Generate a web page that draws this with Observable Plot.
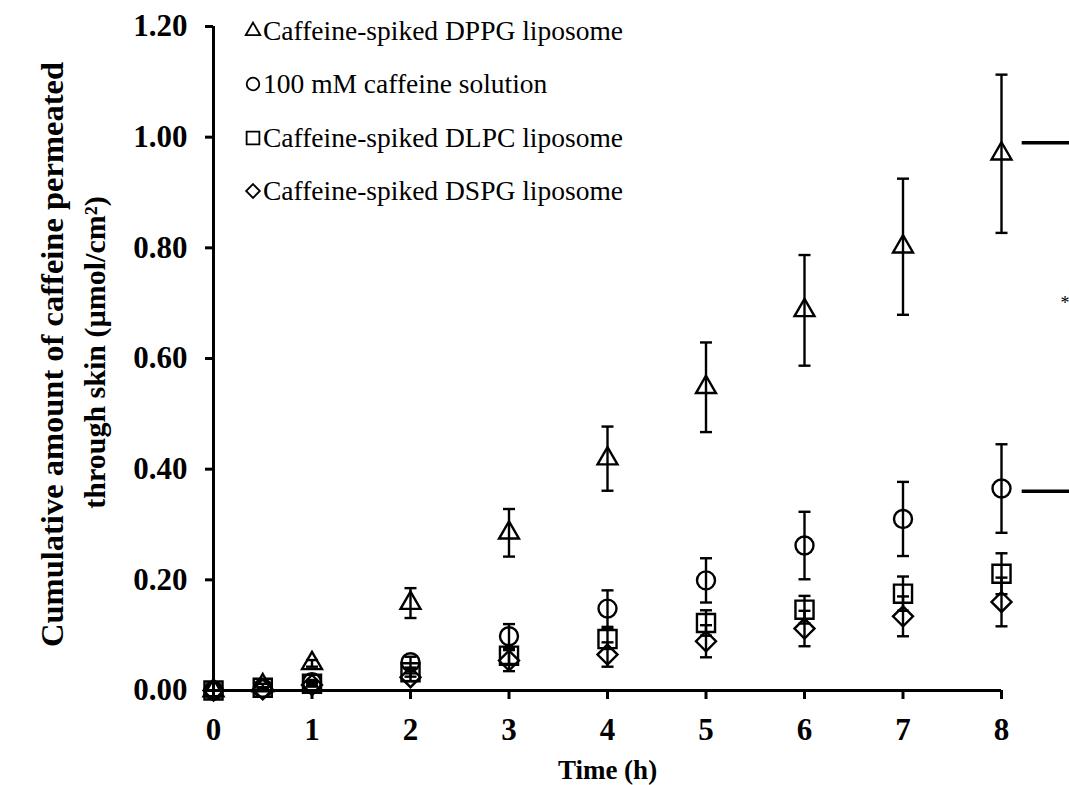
<!DOCTYPE html>
<html>
<head>
<meta charset="utf-8">
<script src="https://cdn.jsdelivr.net/npm/d3@7"></script>
<script src="https://cdn.jsdelivr.net/npm/@observablehq/plot@0.6"></script>
<style>
  body { margin: 0; background: #fff; }
  #figure { position: relative; width: 1069px; height: 785px; font-family: "Liberation Serif", "Times New Roman", serif; }
  #legend { position: absolute; left: 244px; top: 4px; }
  #legend .row { display: flex; align-items: center; height: 53.5px; font-size: 27.5px; color: #000; white-space: nowrap; }
  #legend svg { width: 18px; height: 18px; margin-right: 1px; overflow: visible; }
</style>
</head>
<body>
<div id="figure"><div id="legend"></div></div>
<script>
// Sampling times (h)
const hours = [0, 0.5, 1, 2, 3, 4, 5, 6, 7, 8];

// Cumulative caffeine permeated (µmol/cm²), mean and SD per formulation
const dppgMean     = [0, 0.009, 0.049, 0.158, 0.285, 0.419, 0.548, 0.687, 0.802, 0.970];
const dppgSd       = [0, 0.003, 0.006, 0.027, 0.043, 0.058, 0.081, 0.100, 0.123, 0.143];
const solutionMean = [0, 0.004, 0.015, 0.051, 0.098, 0.148, 0.199, 0.262, 0.310, 0.365];
const solutionSd   = [0, 0.001, 0.004, 0.010, 0.022, 0.033, 0.040, 0.061, 0.067, 0.080];
const dlpcMean     = [0, 0.005, 0.012, 0.033, 0.063, 0.093, 0.122, 0.146, 0.175, 0.211];
const dlpcSd       = [0, 0.001, 0.003, 0.008, 0.015, 0.018, 0.023, 0.025, 0.031, 0.037];
const dspgMean     = [0, 0.002, 0.010, 0.024, 0.054, 0.065, 0.089, 0.112, 0.134, 0.160];
const dspgSd       = [0, 0.001, 0.003, 0.007, 0.019, 0.022, 0.029, 0.032, 0.036, 0.044];

const seriesNames = [
  "Caffeine-spiked DPPG liposome",
  "100 mM caffeine solution",
  "Caffeine-spiked DLPC liposome",
  "Caffeine-spiked DSPG liposome"
];

// Axis ticks and titles
const xTicks = [0, 1, 2, 3, 4, 5, 6, 7, 8];
const yTicks = [0, 0.2, 0.4, 0.6, 0.8, 1.0, 1.2];
const xTitle = "Time (h)";
const yTitleLines = ["Cumulative amount of caffeine permeated", "through skin (µmol/cm²)"];

// Significance bracket ends (cut at the right edge) and its star
const bracketLevels = [0.99, 0.36];
const bracketStar = "*";

const styles = [
  {symbol: "triangle", r: 7.4, legendR: 5.4},
  {symbol: "circle",   r: 9.0, legendR: 6.3},
  {symbol: "square",   r: 10.2, legendR: 7.2},
  {symbol: "diamond2", r: 9.0, legendR: 6.2}
];

const means = [dppgMean, solutionMean, dlpcMean, dspgMean];
const sds = [dppgSd, solutionSd, dlpcSd, dspgSd];

const rows = seriesNames.flatMap((name, i) =>
  hours.map((t, j) => ({series: name, idx: i, t, y: means[i][j], lo: means[i][j] - sds[i][j], hi: means[i][j] + sds[i][j]}))
);

// Horizontal cap for error bars (half-width equals r)
const capSymbol = {
  draw(context, size) {
    const w = Math.sqrt(size / Math.PI);
    context.moveTo(-w, 0);
    context.lineTo(w, 0);
  }
};

const marks = [];
// markers, one mark per formulation so each keeps its own symbol and size
styles.forEach((s, i) => {
  marks.push(Plot.dot(rows.filter(d => d.idx === i), {
    x: "t", y: "y", symbol: s.symbol, r: s.r, fill: "none", stroke: "black", strokeWidth: 2.4
  }));
});
// error bars
marks.push(Plot.ruleX(rows, {x: "t", y1: "lo", y2: "hi", stroke: "black", strokeWidth: 2.4}));
marks.push(Plot.dot(rows, {x: "t", y: "lo", symbol: capSymbol, r: 6, stroke: "black", strokeWidth: 2.4}));
marks.push(Plot.dot(rows, {x: "t", y: "hi", symbol: capSymbol, r: 6, stroke: "black", strokeWidth: 2.4}));

// axes
marks.push(Plot.ruleY([0], {stroke: "black", strokeWidth: 3}));
marks.push(Plot.ruleX([0], {stroke: "black", strokeWidth: 3}));
marks.push(Plot.axisX({
  ticks: xTicks, tickFormat: d3.format("d"), tickSize: 9, tickPadding: 18,
  fontSize: 31, fontWeight: "bold", strokeWidth: 3, label: null
}));
marks.push(Plot.axisY({
  ticks: yTicks, tickFormat: d3.format(".2f"), tickSize: 8, tickPadding: 18,
  fontSize: 31, fontWeight: "bold", strokeWidth: 3, label: null
}));

// axis titles
marks.push(Plot.text([xTitle], {
  frameAnchor: "bottom", dy: 80, fontSize: 27, fontWeight: "bold", lineAnchor: "middle"
}));
marks.push(Plot.text([yTitleLines[0]], {
  frameAnchor: "left", dx: -161, dy: -4, rotate: -90, fontSize: 32.5, fontWeight: "bold",
  lineAnchor: "middle", textAnchor: "middle"
}));
marks.push(Plot.text([yTitleLines[1]], {
  frameAnchor: "left", dx: -118, dy: -6, rotate: -90, fontSize: 30, fontWeight: "bold",
  lineAnchor: "middle", textAnchor: "middle"
}));

// significance bracket pieces
marks.push(Plot.ruleY(bracketLevels, {x1: 8.21, x2: 8.75, stroke: "black", strokeWidth: 3.5}));
marks.push(Plot.text([bracketStar], {x: 8.6, y: 0.70, fontSize: 18, fill: "black", textAnchor: "start"}));

const chart = Plot.plot({
  width: 1069,
  height: 785,
  marginLeft: 213,
  marginRight: 68,
  marginTop: 26,
  marginBottom: 95,
  x: {domain: [0, 8]},
  y: {domain: [0, 1.2]},
  style: {fontFamily: "Liberation Serif, Times New Roman, serif", background: "white", color: "black", overflow: "visible"},
  marks
});
document.getElementById("figure").prepend(chart);

// legend rows drawn with the same symbols as the plot
const typeMap = {triangle: d3.symbolTriangle, circle: d3.symbolCircle, square: d3.symbolSquare, diamond2: d3.symbolDiamond2};
const legend = d3.select("#legend");
seriesNames.forEach((name, i) => {
  const row = legend.append("div").attr("class", "row");
  const svg = row.append("svg").attr("viewBox", "-9 -9 18 18");
  const s = styles[i];
  svg.append("path")
    .attr("d", d3.symbol(typeMap[s.symbol], Math.PI * s.legendR * s.legendR)())
    .attr("fill", "none").attr("stroke", "black").attr("stroke-width", 1.8);
  row.append("span").text(name);
});
</script>
</body>
</html>
